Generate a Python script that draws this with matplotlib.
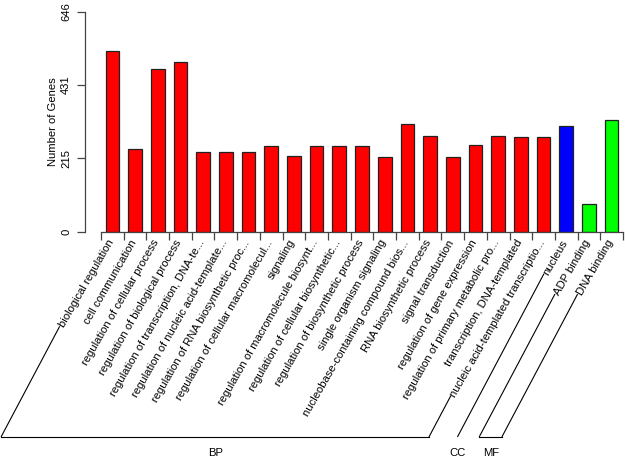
import numpy as np
import matplotlib
matplotlib.use("Agg")
import matplotlib.pyplot as plt
from matplotlib.lines import Line2D
from matplotlib.transforms import IdentityTransform

categories = [
    "biological regulation", "cell communication", "regulation of cellular process",
    "regulation of biological process", "regulation of transcription, DNA-te...",
    "regulation of nucleic acid-template...", "regulation of RNA biosynthetic proc...",
    "regulation of cellular macromolecul...", "signaling",
    "regulation of macromolecule biosynt...", "regulation of cellular biosynthetic...",
    "regulation of biosynthetic process", "single organism signaling",
    "nucleobase-containing compound bios...", "RNA biosynthetic process",
    "signal transduction", "regulation of gene expression",
    "regulation of primary metabolic pro...", "transcription, DNA-templated",
    "nucleic acid-templated transcriptio...", "nucleus", "ADP binding", "DNA binding",
]
values = [530, 242, 477, 497, 234, 234, 234, 252, 222, 252, 252, 252, 220,
          317, 281, 218, 254, 281, 278, 278, 310, 80, 327]
groups = ["BP"] * 20 + ["CC"] + ["MF"] * 2
group_order = ["BP", "CC", "MF"]
group_colors = {"BP": "#FF0000", "CC": "#0000FF", "MF": "#00FF00"}
yticks = [0, 215, 431, 646]

FONT = "Liberation Sans"
FS = 8.1
W, H = 625, 461
fig = plt.figure(figsize=(W / 100, H / 100), dpi=100)

# axes geometry (pixels)
ax_left, ax_top, ax_bot = 85, 11.7, 231.7
first_edge, last_edge = 101, 623
n = len(values)
unit = (last_edge - first_edge) / n
ax = fig.add_axes([ax_left / W, 1 - ax_bot / H, 1 - ax_left / W, (ax_bot - ax_top) / H])
ax.set_xlim(-0.5 - (first_edge - ax_left) / unit, -0.5 + (W - first_edge) / unit)
ax.set_ylim(0, yticks[-1])

x = np.arange(n)
cols = [group_colors[g] for g in groups]
ax.bar(x, values, width=0.6, color=cols, edgecolor="#222222", linewidth=0.9, zorder=2)

for s in ["top", "right"]:
    ax.spines[s].set_visible(False)
ax.spines["left"].set_bounds(yticks[0], yticks[-1])
ax.spines["bottom"].set_bounds(-0.5, n - 0.5)
for s in ["left", "bottom"]:
    ax.spines[s].set_color("#444444")
    ax.spines[s].set_linewidth(0.9)
ax.set_yticks(yticks)
ax.set_yticklabels([str(v) for v in yticks], rotation=90, va="center",
                   fontsize=FS, family=FONT)
ax.set_xticks(np.arange(n + 1) - 0.5)
ax.set_xticklabels([])
ax.tick_params(axis="both", length=6, width=0.9, color="#444444", pad=4)
ax.set_ylabel("Number of Genes", fontsize=FS, family=FONT, labelpad=2)

theta = np.deg2rad(60)
label_y = -26
texts = []
for xi, lab in zip(x, categories):
    t = ax.text(xi - 0.05, label_y, lab, rotation=60, rotation_mode="anchor",
                ha="right", va="center", fontsize=FS, family=FONT, clip_on=False)
    texts.append(t)

fig.canvas.draw()
r = fig.canvas.get_renderer()

def start_point(t):
    tmp = fig.text(0, 0, t.get_text(), fontsize=FS, family=FONT)
    w = tmp.get_window_extent(r).width
    tmp.remove()
    ax_pt = ax.transData.transform(t.get_position())
    return ax_pt[0] - w * np.cos(theta), ax_pt[1] - w * np.sin(theta)

ybot = H - 436.5
slope = 0.53
lkw = dict(color="black", linewidth=0.8, transform=IdentityTransform())
for g in group_order:
    idx = [i for i, gg in enumerate(groups) if gg == g]
    s0 = start_point(texts[idx[0]])
    s1 = start_point(texts[idx[-1]])
    s0 = (s0[0] - 2, s0[1])
    s1 = (s1[0] - 2, s1[1])
    b0 = s0[0] - slope * (s0[1] - ybot)
    b1 = s1[0] - slope * (s1[1] - ybot)
    fig.add_artist(Line2D([s0[0], b0], [s0[1], ybot], **lkw))
    if len(idx) > 1:
        fig.add_artist(Line2D([b0, b1], [ybot, ybot], **lkw))
        fig.add_artist(Line2D([b1, s1[0]], [ybot, s1[1]], **lkw))
    fig.text((b0 + b1) / 2 / W, (H - 453) / H, g, ha="center", va="center",
             fontsize=FS, family=FONT)

fig.savefig("out.png", dpi=100)
